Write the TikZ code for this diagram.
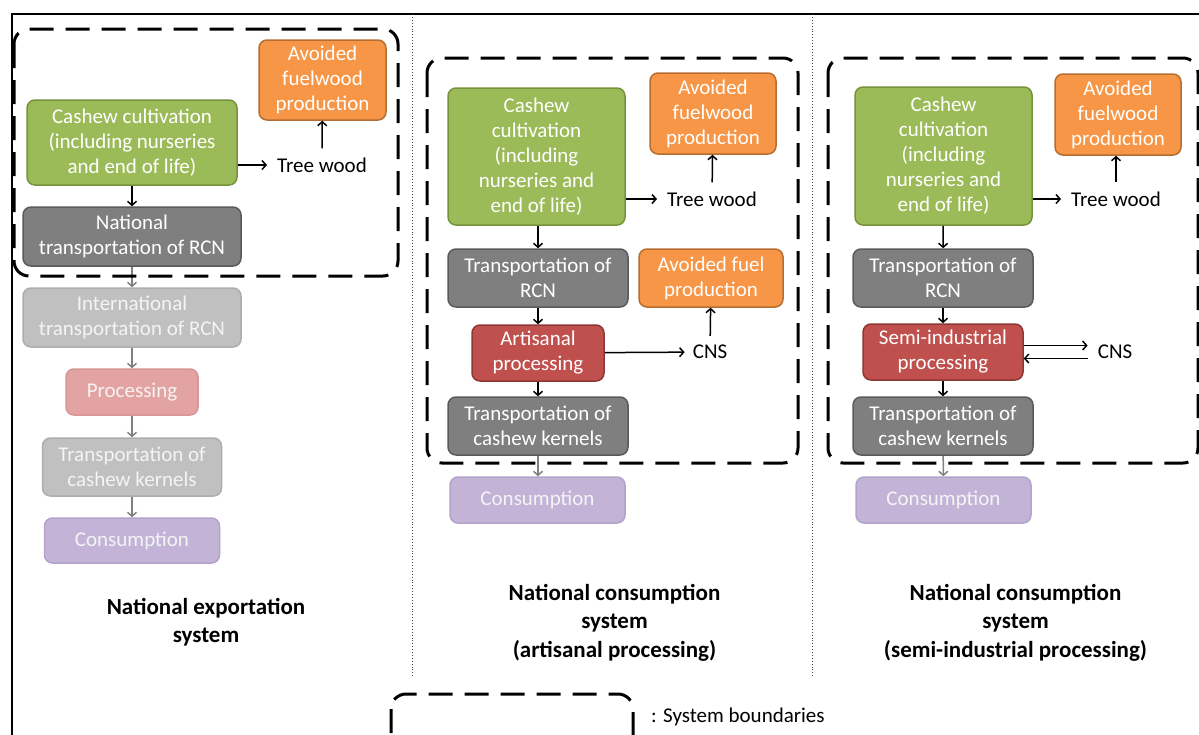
\documentclass[tikz,border=0pt]{standalone}
\usepackage{fontspec}
\setmainfont{Carlito}
\usetikzlibrary{positioning}
\usetikzlibrary{calc}
\usetikzlibrary{arrows.meta}

\definecolor{cultfill}{HTML}{9BBB59}
\definecolor{cultline}{HTML}{76923C}
\definecolor{fuelfill}{HTML}{F79646}
\definecolor{fuelline}{HTML}{B66D31}
\definecolor{trspfill}{HTML}{7F7F7F}
\definecolor{trspline}{HTML}{5A5A5A}
\definecolor{procfill}{HTML}{C0504D}
\definecolor{procline}{HTML}{8C3836}
\definecolor{fadegray}{HTML}{C0C0C0}
\definecolor{fadegrayline}{HTML}{ADADAD}
\definecolor{fadered}{HTML}{E3A3A2}
\definecolor{faderedline}{HTML}{D69593}
\definecolor{fadeviolet}{HTML}{C3B4D7}
\definecolor{fadevioletline}{HTML}{B3A3CA}
\definecolor{fadetext}{HTML}{F4F4F4}

\tikzset{
	every node/.style = {font=\fontsize{21}{25}\selectfont},
	box/.style = {rectangle, rounded corners=8pt, line width=1.5pt, align=center, text=white, inner sep=0pt},
	cultbox/.style = {box, fill=cultfill, draw=cultline},
	fuelbox/.style = {box, fill=fuelfill, draw=fuelline},
	trspbox/.style = {box, fill=trspfill, draw=trspline},
	procbox/.style = {box, fill=procfill, draw=procline},
	fadebox/.style = {box, fill=fadegray, draw=fadegrayline, text=fadetext},
	faderedbox/.style = {box, fill=fadered, draw=faderedline, text=fadetext},
	consbox/.style = {box, fill=fadeviolet, draw=fadevioletline, text=fadetext},
	output/.style = {inner xsep=10pt, inner ysep=9pt},
	flow/.style = {-{Straight Barb[length=4pt,width=9pt]}, line width=1.5pt, black},
	fadeflow/.style = {flow, gray},
	boundary/.style = {line width=3pt, dash pattern=on 24pt off 12pt, rounded corners=15pt},
	title/.style = {align=center, font=\fontsize{23}{28.5}\selectfont\bfseries}
}

\begin{document}
\begin{tikzpicture}[x=1pt, y=-1pt]
	\useasboundingbox (0,0) rectangle (1199,734);

	% frame and separators
	\draw[line width=2pt] (1215,14) -| (12,750);
	\foreach \x in {412, 812}
		\draw[black!75, line width=0.9pt, dotted] (\x,14) -- (\x,676);

	% national exportation system
	\node[cultbox, minimum width=210pt, minimum height=85pt] (cultA) at (132,142.5) {Cashew cultivation\\(including nurseries\\and end of life)};
	\node[fuelbox, minimum width=127pt, minimum height=80pt] (fuelwoodA) at (322.5,80) {Avoided\\fuelwood\\production};
	\node[output] (treeA) at (322,165) {Tree wood};
	\node[trspbox, minimum width=218pt, minimum height=59pt] (natA) at (132,236.5) {National\\transportation of RCN};
	\node[fadebox, minimum width=218pt, minimum height=59pt] (interA) at (132,317.5) {International\\transportation of RCN};
	\node[faderedbox, minimum width=132pt, minimum height=46pt] (procA) at (132,392) {Processing};
	\node[fadebox, minimum width=179pt, minimum height=58pt] (kernA) at (132,467) {Transportation of\\cashew kernels};
	\node[consbox, minimum width=175pt, minimum height=45pt] (consA) at (132,540.5) {Consumption};

	\draw[flow] (treeA.west -| cultA.east) -- (treeA.west);
	\draw[flow] (treeA) -- (fuelwoodA);
	\draw[flow] (cultA) -- (natA);
	\draw[fadeflow] (natA) -- (interA);
	\draw[fadeflow] (interA) -- (procA);
	\draw[fadeflow] (procA) -- (kernA);
	\draw[fadeflow] (kernA) -- (consA);

	\node[title] (titleA) at (206,622) {National exportation\\system};

	% national consumption system, artisanal
	\node[cultbox, minimum width=177pt, minimum height=137pt] (cultB) at (536.5,156.5) {Cashew\\cultivation\\(including\\nurseries and\\end of life)};
	\node[fuelbox, minimum width=126pt, minimum height=81pt] (fuelwoodB) at (713,113.5) {Avoided\\fuelwood\\production};
	\node[output] (treeB) at (712,199) {Tree wood};
	\node[trspbox, minimum width=180pt, minimum height=58pt] (rcnB) at (538,278) {Transportation of\\RCN};
	\node[fuelbox, minimum width=144pt, minimum height=58pt] (fuelB) at (711,278) {Avoided fuel\\production};
	\node[procbox, minimum width=132pt, minimum height=56pt] (artB) at (538,353) {Artisanal\\processing};
	\node[output, inner xsep=8pt] (cnsB) at (710,352) {CNS};
	\node[trspbox, minimum width=180pt, minimum height=58pt] (kernB) at (538,426) {Transportation of\\cashew kernels};
	\node[consbox, minimum width=175pt, minimum height=46pt] (consB) at (537.5,500) {Consumption};

	\draw[flow] (treeB.west -| cultB.east) -- (treeB.west);
	\draw[flow] (treeB) -- (fuelwoodB);
	\draw[flow] (cultB.south -| rcnB.north) -- (rcnB);
	\draw[flow] (rcnB) -- (artB);
	\draw[flow] (artB) -- (cnsB);
	\draw[flow] (cnsB) -- (fuelB);
	\draw[flow] (artB) -- (kernB);
	\draw[fadeflow] (kernB) -- (kernB.south |- consB.north);

	\node[title] (titleB) at (614.5,622.5) {National consumption\\system\\(artisanal processing)};

	% national consumption system, semi-industrial
	\node[cultbox, minimum width=177pt, minimum height=138pt] (cultC) at (943.5,156) {Cashew\\cultivation\\(including\\nurseries and\\end of life)};
	\node[fuelbox, minimum width=126pt, minimum height=81pt] (fuelwoodC) at (1118,114.5) {Avoided\\fuelwood\\production};
	\node[output] (treeC) at (1116,199) {Tree wood};
	\node[trspbox, minimum width=180pt, minimum height=58pt] (rcnC) at (943,278) {Transportation of\\RCN};
	\node[procbox, minimum width=160pt, minimum height=56pt] (semiC) at (943,352) {Semi-industrial\\processing};
	\node[output] (cnsC) at (1115,352) {CNS};
	\node[trspbox, minimum width=180pt, minimum height=58pt] (kernC) at (943,426) {Transportation of\\cashew kernels};
	\node[consbox, minimum width=175pt, minimum height=46pt] (consC) at (943.5,500) {Consumption};

	\coordinate (cnsCout) at ([yshift=6.5pt]cnsC.west);
	\coordinate (cnsCin) at ([yshift=-6.5pt]cnsC.west);
	\draw[flow] (treeC.west -| cultC.east) -- (treeC.west);
	\draw[flow] (treeC) -- (treeC |- fuelwoodC.south);
	\draw[flow] (cultC) -- (rcnC);
	\draw[flow] (rcnC) -- (semiC);
	\draw[flow] (cnsCout -| semiC.east) -- (cnsCout);
	\draw[flow] (cnsCin) -- (cnsCin -| semiC.east);
	\draw[flow] (semiC) -- (kernC);
	\draw[fadeflow] (kernC) -- (consC);

	\node[title] (titleC) at (1015.5,622.5) {National consumption\\system\\(semi-industrial processing)};

	% system boundaries
	\draw[boundary] (14,29) rectangle (398,276);
	\draw[boundary] (427,58) rectangle (798,463);
	\draw[boundary] (828,58) rectangle (1198,463);

	% legend
	\draw[boundary] (391,694) rectangle (633,770);
	\node[anchor=west, inner sep=0pt] (legend) at (651,717) {: System boundaries};
\end{tikzpicture}
\end{document}
